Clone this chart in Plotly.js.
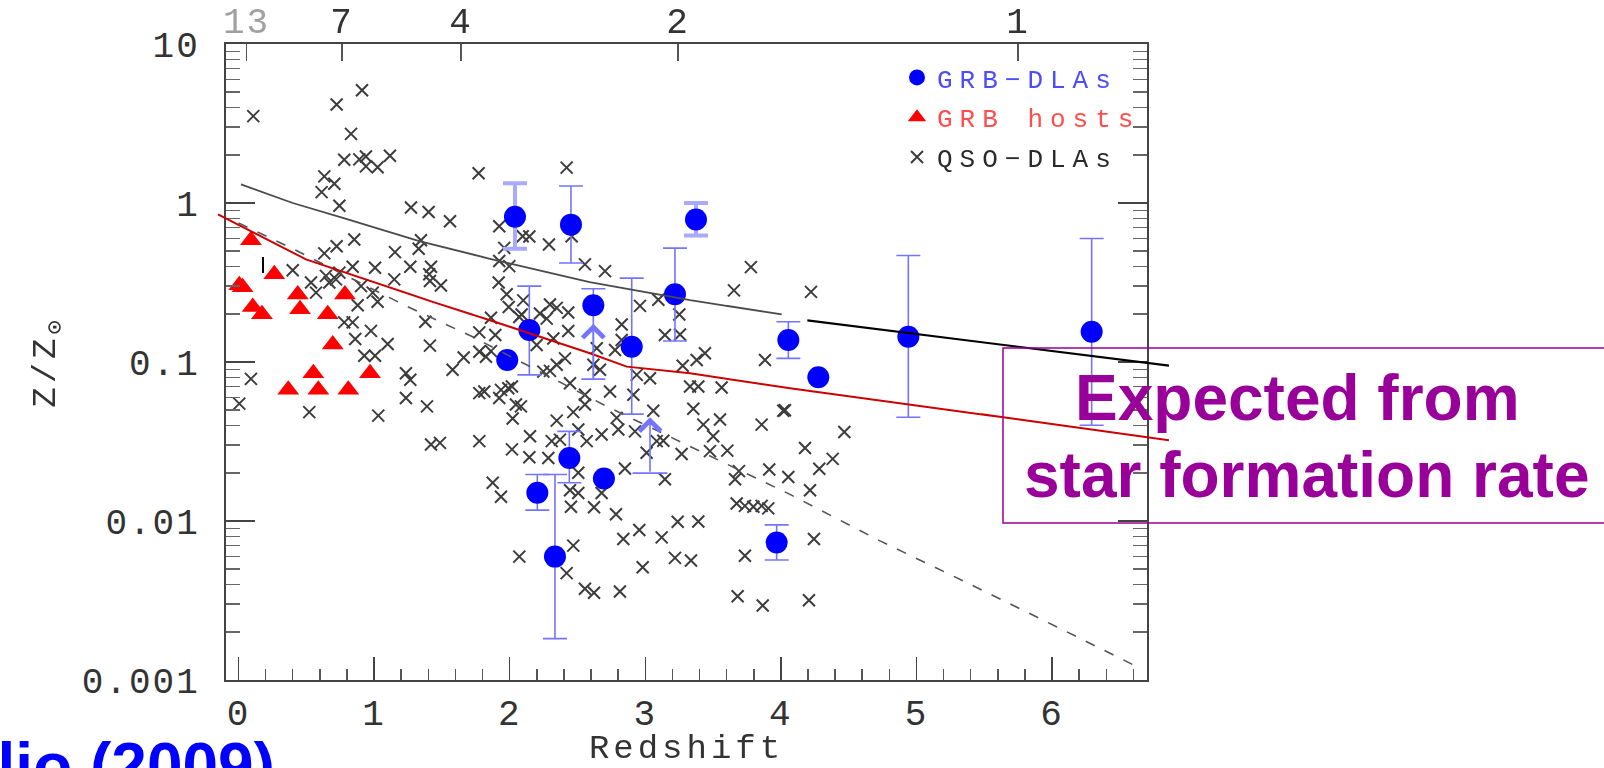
<!DOCTYPE html>
<html><head><meta charset="utf-8">
<script src="https://cdn.plot.ly/plotly-3.0.1.min.js"></script>
<style>
html,body{margin:0;padding:0;background:#fff;overflow:hidden;}
#chart{width:1604px;height:768px;}
.xtick text, .ytick text, .x2tick text {letter-spacing:2px;}
.legendtext {letter-spacing:7px;}
.xtitle, .ytitle {letter-spacing:4px;}
</style></head>
<body><div id="chart"></div>
<script>
// ---------------- data ----------------
// QSO-DLAs (redshift, Z/Zsun)
const qsoZ = [0.109,0.724,0.911,0.830,0.780,0.891,0.940,1.026,1.117,0.940,0.633,0.707,0.613,0.744,1.771,1.272,1.402,1.560,0.854,0.724,
0.633,1.346,1.329,1.154,1.267,1.420,1.407,1.412,1.493,1.007,0.842,1.149,0.400,0.535,0.645,0.670,0.719,0.744,0.572,0.904,
0.990,1.923,1.960,1.923,1.997,1.919,1.978,2.096,0.092,0.006,0.522,0.879,1.026,0.780,0.842,0.977,0.861,1.100,0.928,1.007,
1.235,1.267,1.235,1.390,1.031,1.420,1.486,1.776,2.017,1.875,1.936,2.071,1.378,1.412,1.579,1.661,1.776,1.894,1.776,1.862,
1.825,1.993,1.862,1.776,1.813,1.936,2.017,1.923,2.046,2.083,2.022,2.071,2.420,2.145,2.290,2.457,2.555,2.703,3.779,3.654,
2.088,2.223,2.297,2.347,2.432,2.273,2.432,2.322,2.199,2.826,2.826,2.777,2.642,2.961,3.096,3.251,3.145,3.256,3.440,3.379,
3.276,3.883,3.563,3.330,3.391,3.035,2.937,2.617,2.666,2.408,2.347,2.297,2.248,2.445,2.555,1.990,2.740,2.912,2.100,2.150,
2.145,2.285,2.310,2.371,2.347,2.469,2.506,2.568,2.678,2.555,2.789,2.801,2.924,3.059,3.354,3.428,3.551,3.501,3.858,4.018,
3.084,3.133,3.010,3.268,3.477,3.605,3.691,3.662,3.914,4.055,3.145,2.850,2.506,2.445,2.506,2.678,2.452,2.622,2.784,2.838,
2.956,3.121,3.239,3.391,3.219,3.337,2.981,2.469,2.420,2.555,2.622,2.813,3.674,3.735,3.797,3.858,3.907,3.735,3.681,3.866,
4.222,4.030,4.468,4.178,4.382,4.283,4.215,4.244,4.207];
const qsoMet = [3.52,4.16,5.12,2.72,1.87,1.88,1.96,1.68,1.98,1.70,1.47,1.32,1.17,0.962,1.54,0.937,0.877,0.767,0.589,0.535,
0.482,0.583,0.515,0.491,0.397,0.397,0.356,0.323,0.303,0.392,0.397,0.331,0.378,0.316,0.348,0.316,0.331,0.365,0.273,0.300,
0.273,0.714,0.522,0.432,0.401,0.316,0.267,0.618,0.0783,0.0547,0.0484,0.2275,0.239,0.1775,0.1775,0.157,0.1396,0.1297,0.1096,0.1096,
0.0849,0.0773,0.0593,0.0526,0.046,0.0303,0.031,0.0318,0.0282,0.0174,0.01422,0.00597,0.179,0.1268,0.0893,0.1067,0.1535,0.148,0.116,0.117,
0.108,0.222,0.19,0.0637,0.0653,0.0668,0.0701,0.0593,0.054,0.0526,0.0441,0.192,1.67,0.615,0.548,0.618,0.411,0.373,0.395,0.282,
0.199,0.202,0.230,0.219,0.205,0.1875,0.1567,0.1406,0.128,0.172,0.1374,0.119,0.122,0.2254,0.2466,0.199,0.148,0.149,0.1135,0.103,
0.0948,0.103,0.0692,0.0701,0.0701,0.079,0.083,0.096,0.0893,0.1054,0.096,0.0879,0.087,0.0736,0.0622,0.0684,0.0653,0.0622,0.244,0.0341,
0.0252,0.0249,0.0318,0.0325,0.0428,0.0484,0.0376,0.0318,0.035,0.054,0.0445,0.0376,0.0366,0.0494,0.0508,0.0404,0.0435,0.0341,0.0404,0.0494,
0.0318,0.032,0.0269,0.0264,0.0275,0.0277,0.0206,0.0183,0.0211,0.0189,0.0183,0.0214,0.0201,0.0156,0.0150,0.0150,0.0123,0.0122,0.01104,0.0077,
0.00877,0.00789,0.00989,0.00993,0.00586,0.00564,0.00512,0.0070,0.0047,0.00375,0.00354,0.0036,0.0129,0.01245,0.0123,0.01245,0.0120,0.00605,0.00336,0.00294,
0.276,0.0497,0.0363,0.0288,0.0246,0.0213,0.0156,0.0077,0.00317];

// GRB hosts
const hostZ   = [0.092,0.264,0.006,0.030,0.437,0.785,0.105,0.173,0.454,0.658,0.695,0.552,0.970,0.367,0.589,0.810];
const hostMet = [0.584,0.356,0.304,0.295,0.266,0.266,0.222,0.200,0.215,0.200,0.129,0.085,0.085,0.067,0.067,0.067];

// GRB-DLAs with error bars (upper / lower ends; null = none)
const dlaZ   = [2.039,2.452,3.374,3.219,2.145,2.617,2.900,1.982,2.440,2.695,2.204,2.334,3.969,4.055,4.276,4.940,6.292];
const dlaMet = [0.82,0.731,0.787,0.267,0.159,0.2275,0.1247,0.103,0.0249,0.0185,0.01507,0.00597,0.00733,0.1374,0.0802,0.144,0.155];
const dlaHi  = [1.33,1.28,1.00,0.52,0.30,0.289,0.337,null,0.0366,null,0.0196,0.0196,0.00946,0.179,null,0.468,0.598];
const dlaLo  = [0.515,0.419,0.624,0.1355,0.083,0.078,0.047,null,0.0174,null,0.0117,0.00182,0.00569,0.1054,null,0.0449,0.040];
const dlaPale = [true,false,true,false,false,false,false,false,false,false,false,false,false,false,false,false,false];

// lower limits (arrows)
const limZ    = [2.617, 3.035];
const limFrom = [0.078, 0.020];
const limTo   = [0.174, 0.045];

// model curves
const grayZ = [0.018,0.40,0.77,1.333,1.855,2.59,3.33,4.006];
const grayV = [1.31,1.0,0.806,0.575,0.446,0.318,0.245,0.199];
const blackZ = [4.195,6.862];
const blackV = [0.1825,0.095];
const redZ = [-0.151,0.498,1.432,1.855,2.592,2.75,2.863,3.33,4.067,5.64,6.862];
const redV = [0.849,0.442,0.239,0.183,0.1135,0.101,0.0935,0.0849,0.0684,0.0449,0.0322];
const dashZ = [0.0,0.387,1.223,1.727,2.715,3.403,4.067,4.731,5.37,6.083,6.62];
const dashV = [0.75,0.522,0.228,0.144,0.0526,0.0275,0.0147,0.0075,0.0041,0.00206,0.00122];

// top axis: age of universe (Gyr)
const ageTickZ = [0.060,0.763,1.641,3.241,5.749];
const ageTickText = ['<span style="color:#a0a0a0">13</span>','7','4','2','1'];

// y ticks
const yTickVals = [0.001,0.01,0.1,1,10];
const yTickText = ['0.001','0.01','0.1','1','10'];

// ---------------- layout geometry ----------------
const PL = 218, PR = 1169, AX0 = 226, AX1 = 1147;
const xRange = [-0.092, 6.70];
const pxU = (AX1 - AX0) / (xRange[1] - xRange[0]);
const x3Range = [xRange[0] - (AX0 - PL) / pxU, xRange[1] + (PR - AX1) / pxU];
const W = PR - PL;
const xDom = [(AX0 - PL) / W, (AX1 - PL) / W];
const px = X => (X - PL) / W;          // page x -> paper
const py = Y => (680 - Y) / 636;        // page y -> paper

const minorY = [];
for (let d = -3; d < 1; d++) for (let k = 2; k <= 9; k++) minorY.push(k * Math.pow(10, d));

const blueBar = '#7474ff', paleBar = '#a9a9ff';

function dlaTrace(pale, show) {
  const idx = dlaZ.map((_, i) => i).filter(i => dlaPale[i] === pale);
  return {
    x: idx.map(i => dlaZ[i]), y: idx.map(i => dlaMet[i]),
    type: 'scatter', mode: 'markers', xaxis: 'x', yaxis: 'y',
    name: '<span style="color:#4b4bff">GRB\u2212DLAs</span>',
    legendgroup: 'a', legendrank: 1, showlegend: show,
    marker: {symbol: 'circle', size: 22, color: '#0000ff'},
    error_y: {
      type: 'data', symmetric: false, visible: true,
      array: idx.map(i => dlaHi[i] == null ? NaN : dlaHi[i] - dlaMet[i]),
      arrayminus: idx.map(i => dlaLo[i] == null ? NaN : dlaMet[i] - dlaLo[i]),
      color: pale ? paleBar : blueBar, thickness: pale ? 4 : 1.6, width: 12
    },
    hoverinfo: 'skip'
  };
}

const traces = [
  // empty trace so that the top (age) axis gets drawn
  {x: [], y: [], type: 'scatter', mode: 'markers', xaxis: 'x2', yaxis: 'y', showlegend: false, hoverinfo: 'skip'},
  {x: qsoZ, y: qsoMet, type: 'scatter', mode: 'markers', xaxis: 'x', yaxis: 'y',
   name: '<span style="color:#2a2a2a">QSO\u2212DLAs</span>', legendgroup: 'c', legendrank: 3,
   marker: {symbol: 'x-thin', size: 12, color: '#222', line: {width: 2, color: '#1a1a1a'}}, opacity: 0.85},
  {x: grayZ, y: grayV, type: 'scatter', mode: 'lines', xaxis: 'x3', yaxis: 'y', showlegend: false,
   line: {color: '#4a4a4a', width: 1.8}},
  {x: blackZ, y: blackV, type: 'scatter', mode: 'lines', xaxis: 'x3', yaxis: 'y', showlegend: false,
   line: {color: '#000', width: 2.2}},
  {x: dashZ, y: dashV, type: 'scatter', mode: 'lines', xaxis: 'x3', yaxis: 'y', showlegend: false,
   line: {color: '#555', width: 1.6, dash: '10px,11px'}},
  {x: redZ, y: redV, type: 'scatter', mode: 'lines', xaxis: 'x3', yaxis: 'y', showlegend: false,
   line: {color: '#cc0000', width: 2}},
  {x: hostZ, y: hostMet, type: 'scatter', mode: 'markers', xaxis: 'x', yaxis: 'y',
   name: '<span style="color:#ff4d4d">GRB hosts</span>', legendgroup: 'b', legendrank: 2,
   marker: {symbol: 'triangle-up', size: 19, color: '#ff0000'}},
  {x: [limZ[1]], y: [limFrom[1]], type: 'scatter', mode: 'markers', xaxis: 'x', yaxis: 'y', showlegend: false,
   marker: {symbol: 'line-ew', size: 25, line: {width: 1.6, color: blueBar}}},
  dlaTrace(false, true),
  dlaTrace(true, false)
];

const annotations = limZ.map((z, i) => ({
  x: z, y: Math.log10(limTo[i]), ax: z, ay: Math.log10(limFrom[i]),
  xref: 'x', yref: 'y', axref: 'x', ayref: 'y', text: '', showarrow: true,
  arrowhead: 4, arrowsize: 2.6, arrowwidth: 1.6, arrowcolor: blueBar, standoff: 0, startstandoff: 0
}));
annotations.push(
  {xref: 'paper', yref: 'paper', x: px(1297.5), y: py(398), xanchor: 'center', yanchor: 'middle',
   text: '<b>Expected from</b>', showarrow: false,
   font: {family: 'Liberation Sans, Arial, sans-serif', size: 64, color: '#990099'}},
  {xref: 'paper', yref: 'paper', x: px(1306), y: py(475), xanchor: 'center', yanchor: 'middle',
   text: '<b>star formation rate</b>', showarrow: false,
   font: {family: 'Liberation Sans, Arial, sans-serif', size: 64, color: '#990099'}},
  {xref: 'paper', yref: 'paper', x: px(277), y: py(728), xanchor: 'right', yanchor: 'top',
   text: '<b>Savaglio (2009)</b>', showarrow: false,
   font: {family: 'Liberation Sans, Arial, sans-serif', size: 64, color: '#0000ff'}}
);

const axisCol = '#444';
const tickFont = {family: 'Liberation Mono, DejaVu Sans Mono, monospace', size: 36, color: '#333'};

const layout = {
  width: 1604, height: 768,
  margin: {l: PL, r: 1604 - PR, t: 44, b: 88, pad: 0},
  paper_bgcolor: '#fff', plot_bgcolor: 'rgba(0,0,0,0)',
  font: {family: 'Liberation Mono, DejaVu Sans Mono, monospace', color: '#333'},
  showlegend: true,
  legend: {x: px(897), y: py(54), xanchor: 'left', yanchor: 'top', bgcolor: 'rgba(0,0,0,0)',
           font: {family: 'Liberation Mono, DejaVu Sans Mono, monospace', size: 26},
           tracegroupgap: 3, itemclick: false},
  xaxis: {domain: xDom, range: xRange, anchor: 'y', showgrid: false, zeroline: false,
          showline: true, linecolor: axisCol, linewidth: 2, mirror: false,
          tickmode: 'linear', tick0: 0, dtick: 1, ticks: 'inside', ticklen: 23, tickwidth: 1.5, tickcolor: axisCol,
          minor: {tickmode: 'linear', tick0: 0, dtick: 0.2, ticks: 'inside', ticklen: 11, tickwidth: 1.5, tickcolor: '#555'},
          tickfont: tickFont, ticklabelstandoff: 0,
          title: {text: 'Redshift', font: {family: 'Liberation Mono, DejaVu Sans Mono, monospace', size: 34, color: '#333'}, standoff: 13}},
  xaxis2: {overlaying: 'x', side: 'top', anchor: 'y', range: xRange, showgrid: false, zeroline: false,
           showline: true, linecolor: axisCol, linewidth: 2,
           tickmode: 'array', tickvals: ageTickZ, ticktext: ageTickText,
           ticks: 'inside', ticklen: 17, tickwidth: 1.5, tickcolor: '#555', tickfont: tickFont, ticklabelstandoff: -5},
  xaxis3: {domain: [0, 1], range: x3Range, anchor: 'y', visible: false, showgrid: false, zeroline: false},
  yaxis: {type: 'log', range: [-3, 1], anchor: 'x', domain: [0, 1], showgrid: false, zeroline: false,
          showline: true, linecolor: axisCol, linewidth: 2, mirror: 'ticks',
          tickmode: 'array', tickvals: yTickVals, ticktext: yTickText,
          ticks: 'inside', ticklen: 29, tickwidth: 1.5, tickcolor: axisCol,
          minor: {tickmode: 'array', tickvals: minorY, ticks: 'inside', ticklen: 14, tickwidth: 1.5, tickcolor: '#666'},
          tickfont: tickFont, ticklabelstandoff: 17,
          title: {text: 'Z/Z<sub>\u2299</sub>', font: {family: 'Liberation Mono, DejaVu Sans Mono, monospace', size: 34, color: '#333'}, standoff: 16}},
  shapes: [
    {type: 'rect', xref: 'paper', yref: 'paper', x0: px(1003), x1: px(1612), y0: py(523), y1: py(348),
     line: {color: '#990099', width: 1.5}, fillcolor: 'rgba(0,0,0,0)'},
    {type: 'line', xref: 'paper', yref: 'paper', x0: px(263), x1: px(263), y0: py(273), y1: py(257),
     line: {color: '#000', width: 2}}
  ],
  annotations: annotations
};

Plotly.newPlot('chart', traces, layout, {displayModeBar: false, staticPlot: true});
</script></body></html>
